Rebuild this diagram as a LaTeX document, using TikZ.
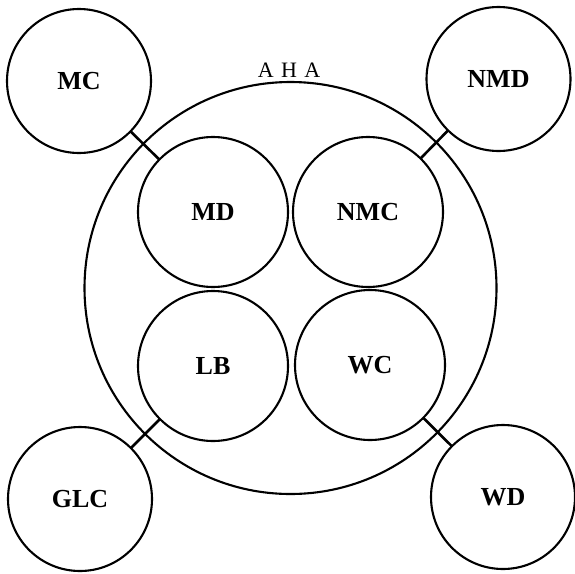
\documentclass[tikz,border=0pt]{standalone}
\usepackage{fontspec}
\setmainfont{Liberation Serif}
\begin{document}
\begin{tikzpicture}[x=1pt,y=-1pt,
  ring/.style={circle, draw, line width=2.1pt, inner sep=0pt, outer sep=0pt},
  corner/.style={ring, minimum size=144pt, font=\bfseries\fontsize{26}{26}\selectfont},
  inner/.style={ring, minimum size=150pt, font=\bfseries\fontsize{26}{26}\selectfont},
  link/.style={line width=2.6pt}]
\useasboundingbox (0,0) rectangle (575,573);
\node[ring, minimum size=412pt] (AHA) at (290.5,288) {};
\node[font=\fontsize{22}{22}\selectfont] (AHAlabel) at (289,70) {A\,\,H\,\,A};
\node[inner] (MD) at (213,212) {MD};
\node[inner] (NMC) at (368,212) {NMC};
\node[inner] (LB) at (213,366) {LB};
\node[inner] (WC) at (370,365) {WC};
\node[corner] (MC) at (79,81) {MC};
\node[corner] (NMD) at (498.5,79) {NMD};
\node[corner] (GLC) at (80,499) {GLC};
\node[corner] (WD) at (503,497) {WD};
\draw[link] (MD) -- (MC);
\draw[link] (NMC) -- (NMD);
\draw[link] (LB) -- (GLC);
\draw[link] (WC) -- (WD);
\end{tikzpicture}
\end{document}
